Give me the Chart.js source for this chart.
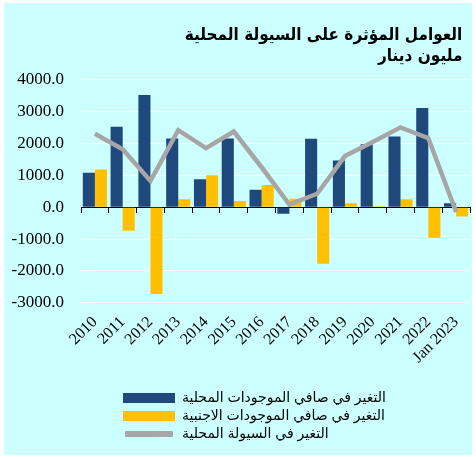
<!DOCTYPE html>
<html><head><meta charset="utf-8">
<script src="https://cdn.jsdelivr.net/npm/chart.js@4/dist/chart.umd.min.js"></script>
<style>
html,body{margin:0;padding:0;background:#fff;}
#wrap{position:absolute;left:4px;top:3px;width:468px;height:452px;background:#CCFFFF;}
</style></head><body>
<div id="wrap"><canvas id="c"></canvas></div>
<script>
const categories = ['2010','2011','2012','2013','2014','2015','2016','2017','2018','2019','2020','2021','2022','Jan 2023'];
const domesticAssets = [1080, 2520, 3510, 2150, 870, 2150, 545, -205, 2140, 1460, 1970, 2215, 3110, 125];
const foreignAssets = [1180, -740, -2720, 250, 1000, 190, 695, 265, -1770, 125, 30, 250, -960, -290];
const liquidityChange = [2300, 1810, 820, 2410, 1850, 2370, 1250, 80, 420, 1600, 2040, 2500, 2160, -150];
const seriesNames = ['التغير في صافي الموجودات المحلية', 'التغير في صافي الموجودات الاجنبية', 'التغير في السيولة المحلية'];
const titleLines = ['العوامل المؤثرة على السيولة المحلية\u2002', 'مليون دينار\u2002'];
const yMin = -3000, yMax = 4000, yStep = 1000;

const BG = '#CCFFFF';
const legendShift = {
  id: 'legendShift',
  afterLayout(chart) {
    const lg = chart.legend;
    if (lg) { lg.left += 115; lg.right += 115; }
  }
};

new Chart(document.getElementById('c'), {
  type: 'bar',
  data: {
    labels: categories,
    datasets: [
      { label: seriesNames[0], data: domesticAssets, backgroundColor: '#1F497D', borderWidth: 0, order: 1,
        categoryPercentage: 0.87, barPercentage: 1.0 },
      { label: seriesNames[1], data: foreignAssets, backgroundColor: '#FFC000', borderWidth: 0, order: 1,
        categoryPercentage: 0.87, barPercentage: 1.0 },
      { type: 'line', label: seriesNames[2], data: liquidityChange, borderColor: '#A6A6A6', backgroundColor: '#A6A6A6',
        borderWidth: 4.5, pointRadius: 0, tension: 0, order: 0, borderJoinStyle: 'miter' }
    ]
  },
  options: {
    responsive: true, maintainAspectRatio: false, animation: false,
    layout: { padding: { left: 0, right: 2, top: 0, bottom: 4 } },
    plugins: {
      title: { display: true, text: titleLines, align: 'end', color: '#000',
        font: { family: '"DejaVu Sans Condensed", "DejaVu Sans", sans-serif', size: 17, weight: 'bold', lineHeight: 1.22 },
        padding: { top: 22, bottom: 13 } },
      legend: { position: 'bottom', align: 'start',
        title: { display: true, text: ' ', font: { size: 10, lineHeight: 1.2 }, padding: { top: 0, bottom: 6 } },
        labels: { boxWidth: 52, boxHeight: 10, padding: 4, color: '#000',
          font: { family: 'Arial, "Liberation Sans", "DejaVu Sans", sans-serif', size: 14 },
          sort: (a, b) => a.datasetIndex - b.datasetIndex,
          generateLabels(chart) {
            const items = Chart.defaults.plugins.legend.labels.generateLabels(chart);
            items.forEach((it) => {
              if (it.datasetIndex === 2) { it.fillStyle = '#A6A6A6'; it.strokeStyle = BG; it.lineWidth = 4; it.borderRadius = 3; }
              else { it.lineWidth = 0; }
            });
            return items;
          } } },
      tooltip: { enabled: false }
    },
    scales: {
      x: { type: 'category', offset: true,
        grid: { display: false }, border: { display: false },
        afterFit: (s) => { s.paddingLeft = 0; s.paddingRight = 0; },
        ticks: { autoSkip: false, maxRotation: 45, minRotation: 45, color: '#000', padding: 2,
          font: { family: '"Liberation Serif", "Times New Roman", serif', size: 16 } } },
      x2: { type: 'category', position: { y: 0 }, offset: true, z: 1,
        grid: { offset: true, drawOnChartArea: false, drawTicks: true, tickLength: 5, color: '#000' },
        border: { display: true, color: '#000', width: 1 },
        afterFit: (s) => { s.paddingLeft = 0; s.paddingRight = 0; },
        ticks: { display: false } },
      y: { min: yMin, max: yMax,
        afterFit: (s) => { s.width = 77; },
        grid: { color: (c) => c.tick && c.tick.value === 0 ? 'rgba(0,0,0,0)' : '#FFFFFF', lineWidth: 1, drawTicks: false },
        border: { display: false },
        ticks: { stepSize: yStep, padding: 17, color: '#000', callback: (v) => Number(v).toFixed(1),
          font: { family: '"Liberation Serif", "Times New Roman", serif', size: 17 } } }
    }
  },
  plugins: [legendShift]
});
</script>
</body></html>
